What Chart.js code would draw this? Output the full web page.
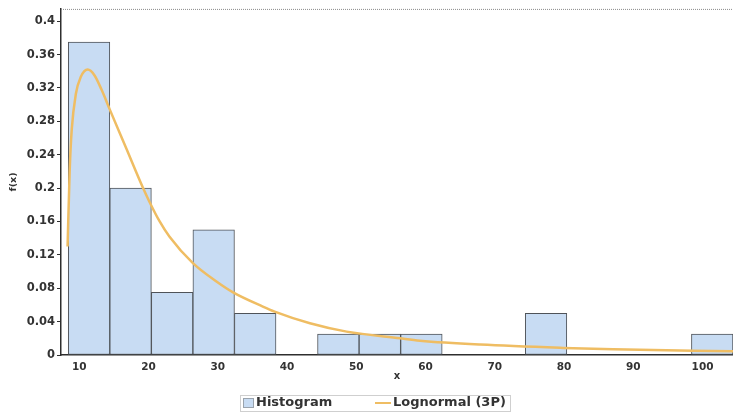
<!DOCTYPE html>
<html>
<head>
<meta charset="utf-8">
<script src="https://cdn.jsdelivr.net/npm/chart.js@4.4.1/dist/chart.umd.min.js"></script>
<style>
  html, body { margin: 0; padding: 0; background: #ffffff; }
  canvas { display: block; }
</style>
</head>
<body>
<canvas id="chart" width="733" height="416"></canvas>
<script>
// Histogram bins (width 6, first edge at 8.4) and their relative frequencies
const binCenters = [11.4, 17.4, 23.4, 29.4, 35.4, 41.4, 47.4, 53.4, 59.4, 65.4, 71.4, 77.4, 83.4, 89.4, 95.4, 101.4];
const binHeights = [0.375, 0.2, 0.075, 0.15, 0.05, 0, 0.025, 0.025, 0.025, 0, 0, 0.05, 0, 0, 0, 0.025];

// Fitted three-parameter lognormal density, sampled along x
const curveX = [8.3, 8.6, 8.9, 9.5, 10.2, 11.2, 12.2, 13.2, 14.4, 16.8, 19.2, 20.1, 21.6, 23.0, 26.4, 29.8, 32.2, 36.5, 38.2, 43.3, 48.6, 56.3, 59.2, 67.9, 79.9, 87.1, 104.4];
const curveY = [0.13, 0.22, 0.27, 0.313, 0.333, 0.342, 0.335, 0.318, 0.294, 0.247, 0.200, 0.184, 0.160, 0.142, 0.110, 0.088, 0.075, 0.058, 0.052, 0.038, 0.028, 0.020, 0.0172, 0.0125, 0.0085, 0.0068, 0.0045];

// Axis ticks
const xTicks = [10, 20, 30, 40, 50, 60, 70, 80, 90, 100];
const yTicks = [0, 0.04, 0.08, 0.12, 0.16, 0.2, 0.24, 0.28, 0.32, 0.36, 0.4];
const yTickLabels = ['0', '0.04', '0.08', '0.12', '0.16', '0.2', '0.24', '0.28', '0.32', '0.36', '0.4'];

const legendLabels = ['Histogram', 'Lognormal (3P)'];
const axisTitles = { x: 'x', y: 'f(x)' };

const BAR_FILL = '#c8dcf3';
const BAR_EDGE = '#4f5358';
const CURVE = '#efbd63';
const TEXT = '#333333';
const AXIS = '#2e2e2e';

// Dotted frame along the top of the plot
const topFrame = {
  id: 'topFrame',
  afterDraw(chart) {
    const { ctx, chartArea } = chart;
    ctx.save();
    ctx.strokeStyle = '#8a8a8a';
    ctx.lineWidth = 1;
    ctx.setLineDash([1, 1]);
    ctx.beginPath();
    ctx.moveTo(chartArea.left, chartArea.top + 0.5);
    ctx.lineTo(chartArea.right, chartArea.top + 0.5);
    ctx.stroke();
    ctx.restore();
  }
};

// Boxed legend underneath the x axis
const boxedLegend = {
  id: 'boxedLegend',
  afterDraw(chart) {
    const { ctx } = chart;
    const hist = chart.data.datasets[1];
    const line = chart.data.datasets[0];
    const y = 403;
    ctx.save();
    ctx.font = 'bold 13px "DejaVu Sans"';
    ctx.textBaseline = 'middle';
    ctx.fillStyle = TEXT;

    // frame
    ctx.strokeStyle = '#cfcfcf';
    ctx.lineWidth = 1;
    ctx.strokeRect(240.5, 395.5, 270, 16);

    // histogram swatch
    ctx.fillStyle = hist.backgroundColor;
    ctx.fillRect(243, 398, 11, 10);
    ctx.strokeStyle = '#9aa3ad';
    ctx.strokeRect(243.5, 398.5, 10, 9);
    ctx.fillStyle = TEXT;
    ctx.fillText(legendLabels[0], 256, y);

    // curve swatch
    ctx.strokeStyle = line.borderColor;
    ctx.lineWidth = 2;
    ctx.beginPath();
    ctx.moveTo(375, y);
    ctx.lineTo(391, y);
    ctx.stroke();
    ctx.fillText(legendLabels[1], 393, y);
    ctx.restore();
  }
};

const tickFont = (size) => ({ family: '"DejaVu Sans"', size, weight: 'bold' });

new Chart(document.getElementById('chart'), {
  type: 'bar',
  data: {
    datasets: [
      {
        type: 'line',
        label: legendLabels[1],
        data: curveX.map((x, i) => ({ x, y: curveY[i] })),
        borderColor: CURVE,
        borderWidth: 2.5,
        pointRadius: 0,
        cubicInterpolationMode: 'monotone',
        fill: false,
        order: 0
      },
      {
        type: 'bar',
        label: legendLabels[0],
        data: binCenters.map((x, i) => ({ x, y: binHeights[i] })),
        backgroundColor: BAR_FILL,
        borderColor: BAR_EDGE,
        borderWidth: 1,
        borderSkipped: false,
        barPercentage: 1,
        categoryPercentage: 1,
        order: 1
      }
    ]
  },
  options: {
    responsive: false,
    animation: false,
    layout: { padding: { top: 5, right: 0, bottom: 30, left: 0 } },
    plugins: {
      legend: { display: false },
      tooltip: { enabled: false }
    },
    scales: {
      x: {
        type: 'linear',
        offset: false,
        min: 7.35,
        max: 104.4,
        afterBuildTicks: (s) => { s.ticks = xTicks.map(v => ({ value: v })); },
        afterFit: (s) => { s.height = 31; },
        ticks: {
          font: tickFont(10.5),
          color: TEXT,
          padding: 4,
          maxRotation: 0,
          autoSkip: false,
          callback: (v) => String(v)
        },
        grid: { display: false, offset: false, drawTicks: true, tickLength: 2 },
        border: { display: true, color: AXIS, width: 1.5 },
        title: {
          display: true,
          text: axisTitles.x,
          font: tickFont(10),
          color: TEXT,
          padding: { top: 0, bottom: 4 }
        }
      },
      y: {
        min: 0,
        max: 0.4147,
        afterBuildTicks: (s) => { s.ticks = yTicks.map(v => ({ value: v })); },
        afterFit: (s) => { s.width = 61; },
        ticks: {
          font: tickFont(11.5),
          color: TEXT,
          padding: 2,
          callback: (v, i) => yTickLabels[i]
        },
        grid: { display: true, drawOnChartArea: false, drawTicks: true, tickLength: 4, color: AXIS },
        border: { display: true, color: AXIS, width: 1.5 },
        title: {
          display: true,
          text: axisTitles.y,
          font: tickFont(9.5),
          color: TEXT,
          padding: { top: 8, bottom: 0 }
        }
      }
    }
  },
  plugins: [topFrame, boxedLegend]
});
</script>
</body>
</html>
